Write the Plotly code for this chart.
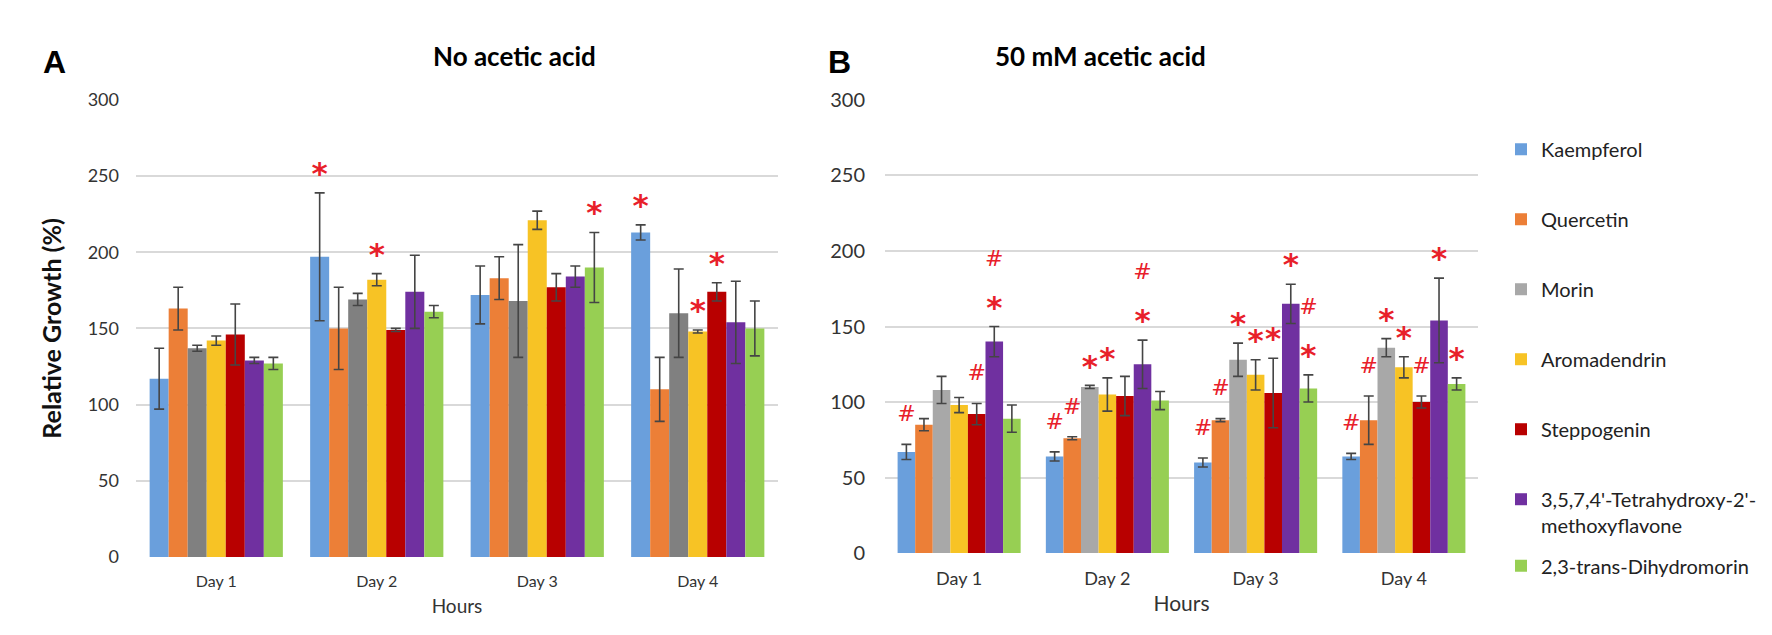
import plotly.graph_objects as go

days = ["Day 1", "Day 2", "Day 3", "Day 4"]
compounds = ["Kaempferol", "Quercetin", "Morin", "Aromadendrin", "Steppogenin",
             "3,5,7,4'-Tetrahydroxy-2'-methoxyflavone", "2,3-trans-Dihydromorin"]
legend_names = ["Kaempferol", "Quercetin", "Morin", "Aromadendrin", "Steppogenin",
                "3,5,7,4'-Tetrahydroxy-2'-<br>methoxyflavone", "2,3-trans-Dihydromorin"]
colors_a = ["#6a9fdc", "#ec7f37", "#808080", "#f7c325", "#b80000", "#7030a0", "#97cf53"]
colors_b = ["#6a9fdc", "#ec7f37", "#a8a8a8", "#f7c325", "#b80000", "#7030a0", "#97cf53"]

# Panel A: no acetic acid
vals_a = [
    [117, 197, 172, 213],
    [163, 150, 183, 110],
    [137, 169, 168, 160],
    [142, 182, 221, 148],
    [146, 149, 177, 174],
    [129, 174, 184, 154],
    [127, 161, 190, 150],
]
err_a = [
    [20, 42, 19, 5],
    [14, 27, 14, 21],
    [2, 4, 37, 29],
    [3, 4, 6, 1],
    [20, 1, 9, 6],
    [2, 24, 7, 27],
    [4, 4, 23, 18],
]
sig_a = [
    ["", "*", "", "*"],
    ["", "", "", ""],
    ["", "", "", ""],
    ["", "*", "", "*"],
    ["", "", "", "*"],
    ["", "", "", ""],
    ["", "", "*", ""],
]

# Panel B: 50 mM acetic acid
vals_b = [
    [67, 64, 60, 64],
    [85, 76, 88, 88],
    [108, 110, 128, 136],
    [98, 105, 118, 123],
    [92, 104, 106, 100],
    [140, 125, 165, 154],
    [89, 101, 109, 112],
]
err_b = [
    [5, 3, 3, 2],
    [4, 1, 1, 16],
    [9, 1, 11, 6],
    [5, 11, 10, 7],
    [7, 13, 23, 4],
    [10, 16, 13, 28],
    [9, 6, 9, 4],
]
sig_b = [
    ["#", "#", "#", "#"],
    ["", "#", "#", "#"],
    ["", "*", "*", "*"],
    ["", "*", "*", "*"],
    ["#", "", "*", "#"],
    ["*#", "*#", "*", "*"],
    ["", "", "*#", "*"],
]

W, H = 1772, 635
BARGAP = 0.17
n = len(compounds)
slot = (1 - BARGAP) / n
RED = "#e8202a"
FONT = "Lato"

fig = go.Figure()


def add_panel(vals, errs, sigs, colors, xa, ya, show):
    for i in range(n):
        fig.add_trace(go.Bar(
            x=list(range(len(days))), y=vals[i], name=legend_names[i],
            marker=dict(color=colors[i], line=dict(width=0)),
            error_y=dict(type="data", array=errs[i], color="#454545", thickness=1.6, width=5),
            xaxis=xa, yaxis=ya, showlegend=show, legendgroup=compounds[i],
            legend="legend2" if (show and i == n - 1) else "legend",
        ))
    # significance markers
    for sym, size, first_off in (("*", 31, 11), ("#", 22, 19)):
        xs, ys = [], []
        for i in range(n):
            for d in range(len(days)):
                s = sigs[i][d]
                if sym in s:
                    level = s.index(sym)
                    top = vals[i][d] + errs[i][d]
                    xs.append(d + (i - (n - 1) / 2) * slot)
                    ys.append(top + first_off + level * 25)
        if xs:
            fig.add_trace(go.Scatter(
                x=xs, y=ys, mode="text", text=[sym] * len(xs),
                textfont=dict(color=RED, size=size, family="DejaVu Sans",
                              weight="bold" if sym == "*" else "normal"),
                textposition="middle center", showlegend=False, hoverinfo="skip",
                xaxis=xa, yaxis=ya, cliponaxis=False,
            ))


add_panel(vals_a, err_a, sig_a, colors_a, "x", "y", False)
add_panel(vals_b, err_b, sig_b, colors_b, "x2", "y2", True)

axis_x = dict(
    tickmode="array", tickvals=list(range(len(days))), ticktext=days,
    range=[-0.5, len(days) - 0.5], showgrid=False, zeroline=False, showline=False,
    ticks="", ticklabelstandoff=13,
)
axis_y = dict(
    range=[0, 300], tick0=0, dtick=50, showgrid=True, gridcolor="#d9d9d9", gridwidth=1.5,
    zeroline=False, showline=False, ticks="",
)
legend_common = dict(
    x=1493 / W, xanchor="left", yanchor="top",
    font=dict(family=FONT, size=20, color="#222222"),
    traceorder="grouped", tracegroupgap=41, valign="top",
    itemwidth=30, bgcolor="rgba(0,0,0,0)",
)

fig.update_layout(
    width=W, height=H,
    margin=dict(l=0, r=0, t=0, b=0),
    paper_bgcolor="white", plot_bgcolor="white",
    barmode="group", bargap=BARGAP, bargroupgap=0,
    xaxis=dict(axis_x, domain=[128 / W, 770 / W],
               tickfont=dict(family=FONT, size=16, color="#333333"),
               title=dict(text="Hours", font=dict(family=FONT, size=19, color="#333333"), standoff=10)),
    xaxis2=dict(axis_x, domain=[877 / W, 1470 / W], anchor="y2",
                tickfont=dict(family=FONT, size=18, color="#333333"),
                title=dict(text="Hours", font=dict(family=FONT, size=21, color="#333333"), standoff=8)),
    yaxis=dict(axis_y, domain=[(H - 557) / H, (H - 82) / H],
               tickfont=dict(family=FONT, size=18, color="#333333"), ticklabelstandoff=16,
               title=dict(text="<b>Relative Growth (%)</b>", font=dict(family=FONT, size=25, color="#111111"),
                          standoff=18)),
    yaxis2=dict(axis_y, domain=[(H - 553) / H, (H - 82) / H], anchor="x2",
                tickfont=dict(family=FONT, size=20, color="#333333"), ticklabelstandoff=19),
    legend=dict(legend_common, y=1 - 113 / H),
    legend2=dict(legend_common, y=1 - 546 / H),
    font=dict(family=FONT),
    annotations=[
        dict(text="<b>A</b>", x=33 / W, y=1 - 22 / H, xref="paper", yref="paper", showarrow=False,
             font=dict(family="Liberation Sans", size=32, color="black")),
        dict(text="<b>B</b>", x=831 / W, y=1 - 22 / H, xref="paper", yref="paper", showarrow=False,
             font=dict(family="Liberation Sans", size=32, color="black")),
        dict(text="<b>No acetic acid</b>", x=423 / W, y=1 - 18 / H, xref="paper", yref="paper",
             showarrow=False, font=dict(family=FONT, size=26, color="black")),
        dict(text="<b>50 mM acetic acid</b>", x=1200 / W, y=1 - 18 / H, xref="paper", yref="paper",
             showarrow=False, font=dict(family=FONT, size=26, color="black")),
    ],
)

fig.write_html("out.html")
